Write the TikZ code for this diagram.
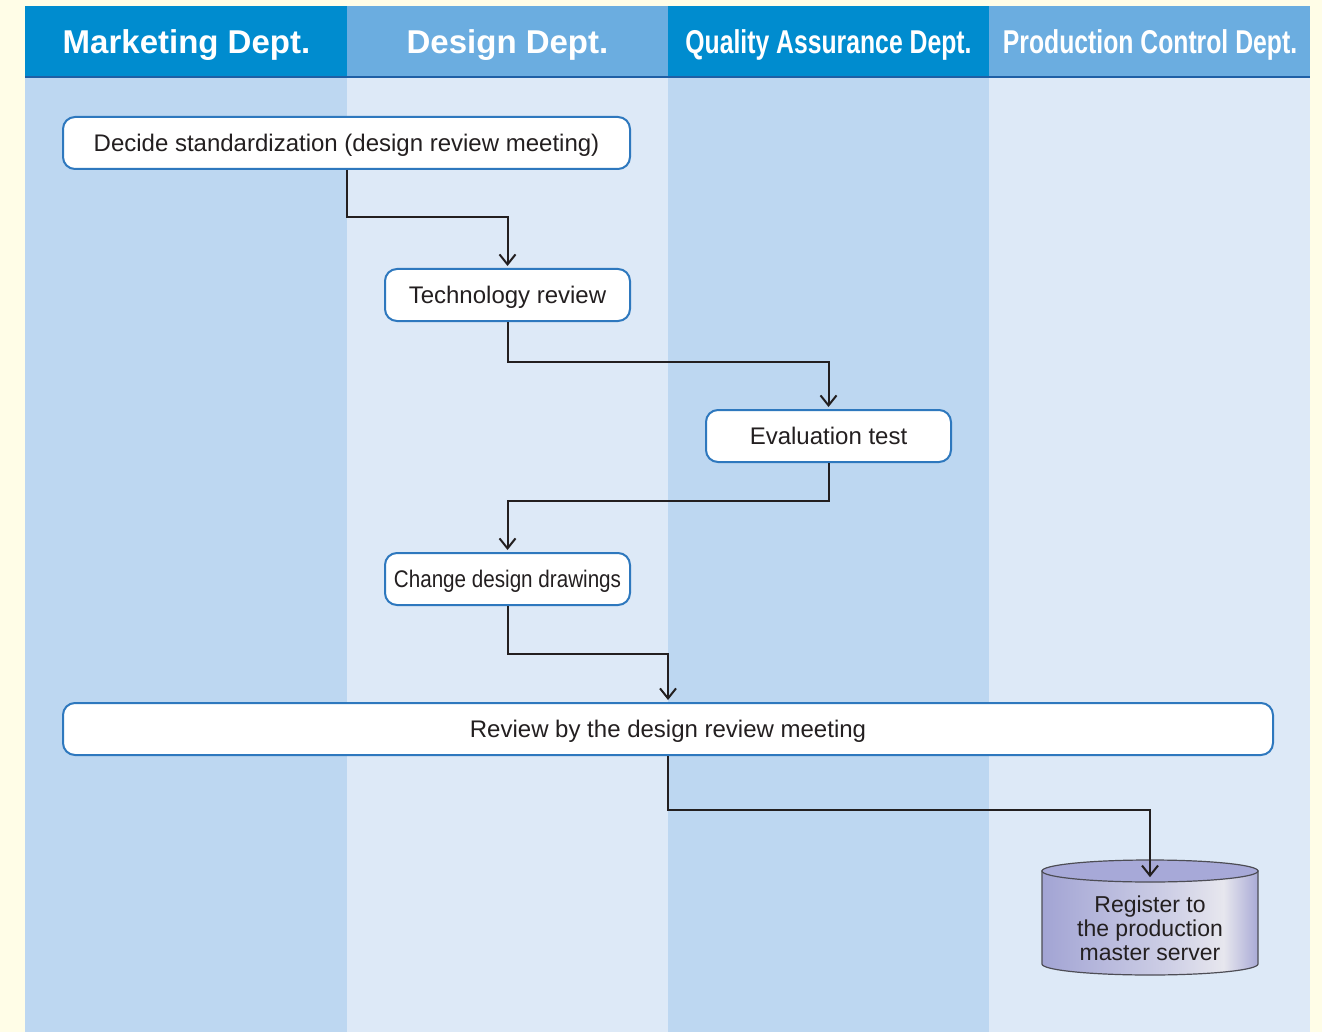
\documentclass[tikz,border=0pt]{standalone}
\usepackage{graphicx}
\usepackage{fontspec}
\setmainfont{Liberation Sans}
\usetikzlibrary{arrows.meta}

\definecolor{cream}{HTML}{FFFDE7}
\definecolor{hdark}{HTML}{008CCF}
\definecolor{hlight}{HTML}{6BADE0}
\definecolor{lanedark}{HTML}{BDD7F1}
\definecolor{lanelight}{HTML}{DDE9F7}
\definecolor{headline}{HTML}{1F5FA5}
\definecolor{boxline}{HTML}{2E78BE}
\definecolor{flowline}{HTML}{231F20}
\definecolor{textgray}{HTML}{231F20}
\definecolor{cylline}{HTML}{4D4D55}
\definecolor{cyltop}{HTML}{A7A9D8}
\definecolor{cylside}{HTML}{A2A4D4}
\definecolor{cylmid}{HTML}{CFD0E6}
\definecolor{cylshine}{HTML}{E7E7EE}
\definecolor{cylright}{HTML}{A9AAD6}

\pgfdeclarehorizontalshading{cylbody}{100bp}{color(0bp)=(cylside); color(25bp)=(cylside);
  color(55bp)=(cylmid); color(67bp)=(cylshine); color(75bp)=(cylright); color(100bp)=(cylright)}

\begin{document}
\begin{tikzpicture}[x=0.5pt, y=-0.5pt,
      every node/.style = {font=\fontsize{12}{14}\selectfont, text=textgray},
      lanehead/.style = {text=white, font=\fontsize{16.5}{18}\selectfont\bfseries},
      stepbox/.style = {shape=rectangle, rounded corners=6pt,
        draw=boxline, line width=1pt, fill=white, align=center,
        minimum height=26pt, inner sep=0pt, text height=10.1pt, text depth=1.5pt},
      dbtext/.style = {align=center, inner xsep=0pt, inner ysep=8pt,
        font=\fontsize{11.5}{12}\selectfont},
      flow/.style = {draw=flowline, line width=1pt, shorten >=1pt,
        -{Straight Barb[length=5pt,width=8pt]}}]

  \useasboundingbox[fill=cream] (0,0) rectangle (1322,1032);

  % swim lanes
  \fill[lanedark]  (25,77)   rectangle (347,1032);
  \fill[lanelight] (347,77)  rectangle (668,1032);
  \fill[lanedark]  (668,77)  rectangle (989,1032);
  \fill[lanelight] (989,77)  rectangle (1310,1032);
  \fill[hdark]  (25,6)   rectangle (347,77);
  \fill[hlight] (347,6)  rectangle (668,77);
  \fill[hdark]  (668,6)  rectangle (989,77);
  \fill[hlight] (989,6)  rectangle (1310,77);
  \draw[headline, line width=1pt] (25,77) -- (1310,77);

  \node[lanehead] (hmkt) at (186.5,45) {Marketing Dept.};
  \node[lanehead] (hdes) at (507.5,45) {Design Dept.};
  \node[lanehead] (hqa)  at (828.5,45) {\scalebox{0.75}[1]{Quality Assurance Dept.}};
  \node[lanehead] (hpc)  at (1150,45)  {\scalebox{0.75}[1]{Production Control Dept.}};

  % steps
  \node[stepbox, minimum width=283.5pt] (decide) at (346.5,143)
    {Decide standardization (design review meeting)};
  \node[stepbox, minimum width=122.5pt] (tech) at (507.5,295) {Technology review};
  \node[stepbox, minimum width=122.5pt] (eval) at (828.5,436) {Evaluation test};
  \node[stepbox, minimum width=122.5pt] (change) at (507.5,579)
    {\scalebox{0.86}[1]{Change design drawings}};
  \node[stepbox, minimum width=605pt] (review) at (668,729)
    {Review by the design review meeting};

  % database
  \draw[cylline, line width=0.6pt, shading=cylbody]
    (1042,871) -- (1042,964) arc[start angle=180, end angle=360, x radius=54pt, y radius=5.5pt]
    -- (1258,871) -- cycle;
  \draw[cylline, line width=0.6pt, fill=cyltop] (1150,871) ellipse[x radius=54pt, y radius=5.5pt];
  \node[dbtext] (reg) at (1150,928) {Register to\\the production\\master server};

  \draw[flow] (decide.south) -- ++(0,47) -| (tech.north);
  \draw[flow] (tech.south) -- ++(0,40) -| (eval.north);
  \draw[flow] (eval.south) -- ++(0,38) -| (change.north);
  \draw[flow] (change.south) -- ++(0,48) -| (review.north);
  \draw[flow] (review.south) -- ++(0,54) -| (reg.north);
\end{tikzpicture}
\end{document}
